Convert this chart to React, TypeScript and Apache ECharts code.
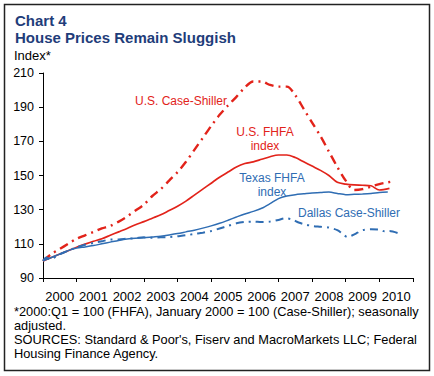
import React, { useEffect, useRef } from "react";
import * as echarts from "echarts";

const years = ["2000", "2001", "2002", "2003", "2004", "2005", "2006", "2007", "2008", "2009", "2010"];

const usCaseShillerT = [2000.0, 2000.25, 2000.5, 2000.75, 2001.0, 2001.25, 2001.5, 2001.75, 2002.0, 2002.25, 2002.5, 2002.75, 2003.0, 2003.25, 2003.5, 2003.75, 2004.0, 2004.25, 2004.5, 2004.75, 2005.0, 2005.25, 2005.5, 2005.75, 2006.0, 2006.25, 2006.5, 2006.75, 2007.0, 2007.25, 2007.5, 2007.75, 2008.0, 2008.25, 2008.5, 2008.75, 2009.0, 2009.25, 2009.5, 2009.75, 2010.0, 2010.25, 2010.45];
const usCaseShillerV = [100, 104, 107, 110, 113, 115, 117, 119, 120.5, 123, 126, 129.5, 133, 138, 142, 147, 152, 158, 165, 172, 179, 185.5, 191, 196, 201.5, 205, 205, 203, 202, 202, 197, 189, 181, 173, 164, 155, 147, 141.5, 142, 143.5, 145, 146, 146.8];

const usFhfaT = [2000.0, 2000.25, 2000.5, 2000.75, 2001.0, 2001.25, 2001.5, 2001.75, 2002.0, 2002.25, 2002.5, 2002.75, 2003.0, 2003.25, 2003.5, 2003.75, 2004.0, 2004.25, 2004.5, 2004.75, 2005.0, 2005.25, 2005.5, 2005.75, 2006.0, 2006.25, 2006.5, 2006.75, 2007.0, 2007.25, 2007.5, 2007.75, 2008.0, 2008.25, 2008.5, 2008.75, 2009.0, 2009.25, 2009.5, 2009.75, 2010.0, 2010.3];
const usFhfaV = [100, 102, 104, 106, 108, 109.8, 111.5, 113, 115, 117, 119, 121.2, 123, 125, 127, 129.5, 132, 135, 138.5, 142, 145.5, 149, 152, 155, 157, 158, 159.5, 161, 162, 162, 160.5, 158, 155.5, 153, 150, 146, 145, 144.5, 144.3, 144, 141.5, 142.5];

const texasFhfaT = [2000.0, 2000.25, 2000.5, 2000.75, 2001.0, 2001.25, 2001.5, 2001.75, 2002.0, 2002.25, 2002.5, 2002.75, 2003.0, 2003.25, 2003.5, 2003.75, 2004.0, 2004.25, 2004.5, 2004.75, 2005.0, 2005.25, 2005.5, 2005.75, 2006.0, 2006.25, 2006.5, 2006.75, 2007.0, 2007.25, 2007.5, 2007.75, 2008.0, 2008.25, 2008.5, 2008.75, 2009.0, 2009.25, 2009.5, 2009.75, 2010.0, 2010.25];
const texasFhfaV = [100, 102, 104, 106, 107.5, 108.2, 109, 110, 111, 112, 112.8, 113.3, 113.5, 114, 114.5, 115.2, 116, 117, 118, 119.2, 120.5, 122, 123.8, 125.7, 127.5, 129, 130.8, 133.5, 136.5, 138, 138.8, 139.3, 139.8, 140, 140.3, 139.5, 138.8, 139, 139.2, 139.5, 140, 140.3];

const dallasCsT = [2000.0, 2000.1, 2000.2, 2000.5, 2000.75, 2001.0, 2001.25, 2001.5, 2001.75, 2002.0, 2002.25, 2002.5, 2002.75, 2003.0, 2003.25, 2003.5, 2003.75, 2004.0, 2004.25, 2004.5, 2004.75, 2005.0, 2005.25, 2005.5, 2005.75, 2006.0, 2006.25, 2006.5, 2006.75, 2007.0, 2007.2, 2007.4, 2007.6, 2007.8, 2008.0, 2008.25, 2008.5, 2008.75, 2008.9, 2009.05, 2009.2, 2009.35, 2009.5, 2009.75, 2010.0, 2010.15, 2010.3, 2010.55];
const dallasCsV = [100, 102, 101, 104, 106, 108, 109.5, 110.5, 111.5, 112.5, 112.5, 113, 113.3, 113.8, 113.5, 113.8, 114, 114.5, 115, 115.8, 116.5, 117.5, 119, 120.5, 122, 122.8, 123, 122.8, 123, 124, 125, 124.3, 122.5, 121.3, 120.5, 120, 119.5, 118, 116, 114, 115, 116.5, 118, 118.5, 118.3, 117.3, 117.5, 116.3];

const RED = "#e2231a";
const BLUE = "#2f6db3";
const NAVY = "#1f3d7a";
const FONT = "Arial, 'Liberation Sans', sans-serif";

const zip = (t: number[], v: number[]) => t.map((x, i) => [x, v[i]]);

export default function App() {
  const ref = useRef<HTMLDivElement>(null);
  useEffect(() => {
    if (!ref.current) return;
    const chart = echarts.init(ref.current, null, { renderer: "svg" });
    const txt = (x: number, y: number, text: string, opts: any = {}) => ({
      type: "text",
      x,
      y,
      style: {
        text,
        fill: opts.fill || "#000",
        font: opts.font || `12px ${FONT}`,
        textAlign: opts.align || "left",
        textVerticalAlign: "middle",
      },
    });
    const foot = `12.8px ${FONT}`;
    chart.setOption({
      animation: false,
      backgroundColor: "#fff",
      grid: { left: 43, right: 21, top: 73, bottom: 98, containLabel: false },
      xAxis: [
        {
          type: "category",
          data: years,
          axisLine: { lineStyle: { color: "#000", width: 1 } },
          axisTick: { show: true, length: 4, lineStyle: { color: "#000" } },
          axisLabel: { color: "#000", fontSize: 13, fontFamily: FONT, margin: 12, interval: 0 },
        },
        { type: "value", min: 2000, max: 2011, show: false },
      ],
      yAxis: {
        type: "value",
        min: 90,
        max: 210,
        interval: 20,
        splitLine: { show: false },
        axisLine: { show: true, lineStyle: { color: "#000", width: 1 } },
        axisTick: { show: true, length: 4, lineStyle: { color: "#000" } },
        axisLabel: { color: "#000", fontSize: 12.5, fontFamily: FONT, margin: 9 },
      },
      series: [
        {
          type: "line",
          xAxisIndex: 1,
          data: zip(usCaseShillerT, usCaseShillerV),
          showSymbol: false,
          smooth: 0.3,
          lineStyle: { color: RED, width: 2.4, type: [9, 5, 2, 5] },
        },
        {
          type: "line",
          xAxisIndex: 1,
          data: zip(usFhfaT, usFhfaV),
          showSymbol: false,
          smooth: 0.3,
          lineStyle: { color: RED, width: 1.7 },
        },
        {
          type: "line",
          xAxisIndex: 1,
          data: zip(texasFhfaT, texasFhfaV),
          showSymbol: false,
          smooth: 0.3,
          lineStyle: { color: BLUE, width: 1.5 },
        },
        {
          type: "line",
          xAxisIndex: 1,
          data: zip(dallasCsT, dallasCsV),
          showSymbol: false,
          smooth: 0.3,
          lineStyle: { color: BLUE, width: 2, type: [8, 5, 2, 5] },
        },
      ],
      graphic: [
        {
          type: "rect",
          shape: { x: 4.5, y: 4.5, width: 425, height: 366 },
          style: { fill: "none", stroke: "#222", lineWidth: 1.5 },
        },
        txt(15, 20, "Chart 4", { fill: NAVY, font: `bold 15px ${FONT}` }),
        txt(15, 37, "House Prices Remain Sluggish", { fill: NAVY, font: `bold 15px ${FONT}` }),
        txt(14, 55, "Index*", { font: `13px ${FONT}` }),
        txt(135, 101, "U.S. Case-Shiller", { fill: RED }),
        txt(265, 132, "U.S. FHFA", { fill: RED, align: "center" }),
        txt(265, 146, "index", { fill: RED, align: "center" }),
        txt(272, 178, "Texas FHFA", { fill: BLUE, align: "center" }),
        txt(272, 192, "index", { fill: BLUE, align: "center" }),
        txt(298, 213, "Dallas Case-Shiller", { fill: BLUE }),
        txt(14, 311, "*2000:Q1 = 100 (FHFA), January 2000 = 100 (Case-Shiller); seasonally", { font: foot }),
        txt(14, 325, "adjusted.", { font: foot }),
        txt(14, 339, "SOURCES: Standard & Poor's, Fiserv and MacroMarkets LLC; Federal", { font: foot }),
        txt(14, 353, "Housing Finance Agency.", { font: foot }),
      ],
    });
    return () => chart.dispose();
  }, []);
  return (
    <div
      ref={ref}
      style={{ position: "absolute", left: 0, top: 0, width: 434, height: 376 }}
    />
  );
}
